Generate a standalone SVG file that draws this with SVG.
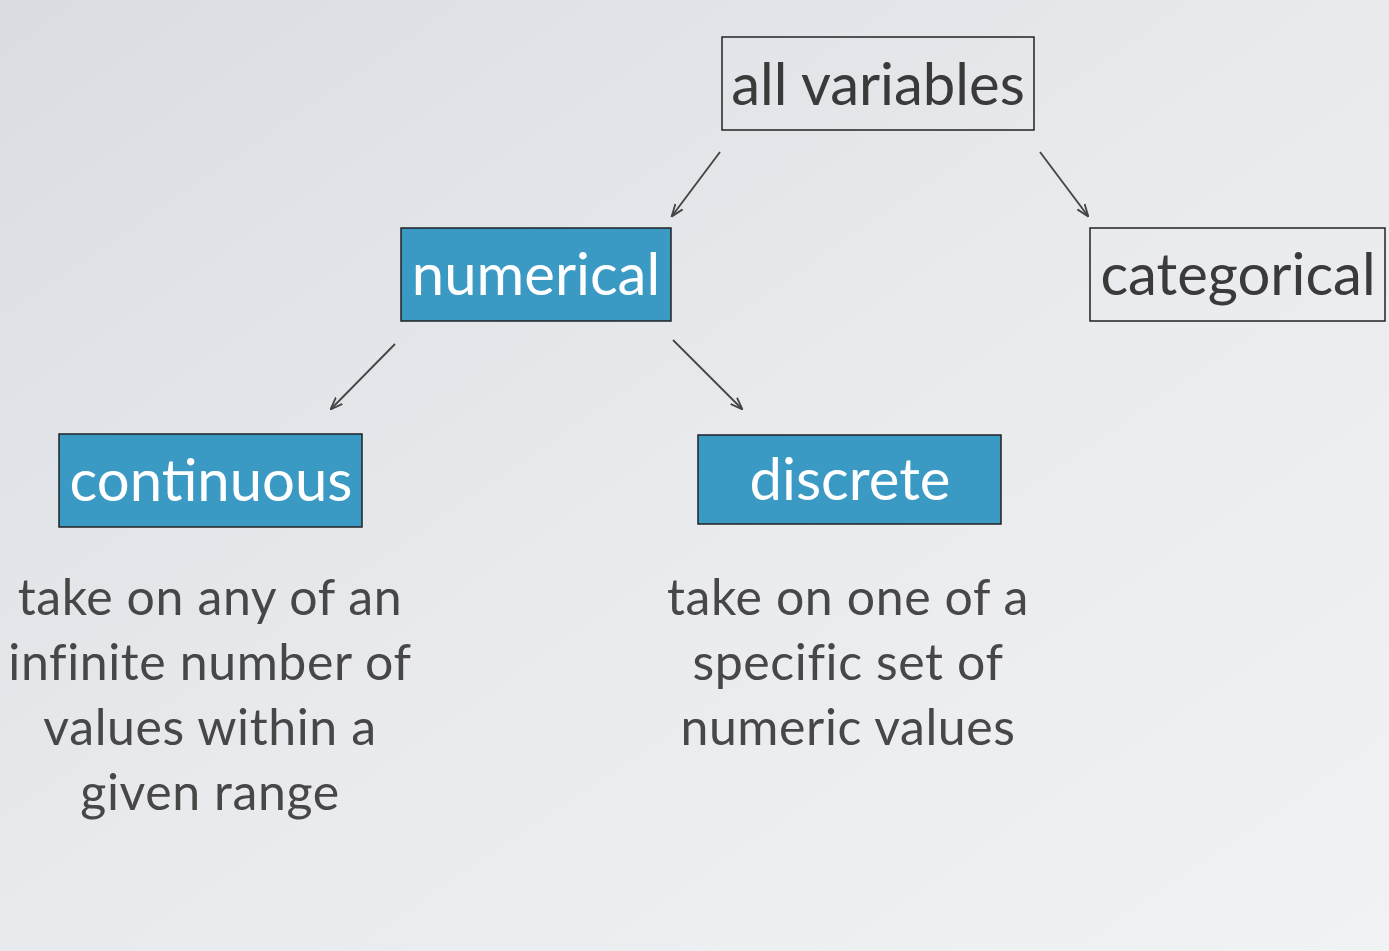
<svg xmlns="http://www.w3.org/2000/svg" width="1389" height="951" viewBox="0 0 1389 951">
<defs>
<linearGradient id="bg" x1="0" y1="0" x2="1" y2="1">
<stop offset="0" stop-color="#d9dde2"/>
<stop offset="0.5" stop-color="#e8eaed"/>
<stop offset="1" stop-color="#f1f2f4"/>
</linearGradient>
<marker id="ah" viewBox="0 0 10 10" refX="9" refY="5" markerWidth="13" markerHeight="13" orient="auto" markerUnits="userSpaceOnUse">
<path d="M0,1.5 L9.5,5 L0,8.5" fill="none" stroke="#444" stroke-width="1.4"/>
</marker>
<style>
.box{stroke:#222;stroke-width:1.5}
.open{fill:none}
.blue{fill:#3a9ac4}
.t{font-family:Lato,"Open Sans",sans-serif;font-size:58px;text-anchor:middle}
.dark{fill:#3a3a3a}
.light{fill:#ffffff}
.d{font-family:Lato,"Open Sans",sans-serif;font-size:50px;text-anchor:middle;fill:#474747;letter-spacing:0.6px}
.c{stroke:#444;stroke-width:1.8;fill:none;marker-end:url(#ah)}
</style>
</defs>
<rect x="0" y="0" width="1389" height="951" fill="url(#bg)"/>
<g id="connectors">
<line class="c" x1="720" y1="152" x2="672" y2="216"/>
<line class="c" x1="1040" y1="152" x2="1088" y2="216"/>
<line class="c" x1="395" y1="344" x2="331" y2="409"/>
<line class="c" x1="673" y1="340" x2="742" y2="409"/>
</g>
<g id="all-variables">
<rect class="box open" x="722" y="37" width="312" height="93"/>
<text class="t dark" x="878" y="105">all variables</text>
</g>
<g id="numerical">
<rect class="box blue" x="401" y="228" width="270" height="93"/>
<text class="t light" x="536" y="295">numerical</text>
</g>
<g id="categorical">
<rect class="box open" x="1090" y="228" width="295" height="93"/>
<text class="t dark" x="1238" y="295">categorical</text>
</g>
<g id="continuous">
<rect class="box blue" x="59" y="434" width="303" height="93"/>
<text class="t light" x="211" y="501">continuous</text>
</g>
<g id="discrete">
<rect class="box blue" x="698" y="435" width="303" height="89"/>
<text class="t light" x="850" y="500">discrete</text>
</g>
<g id="continuous-desc">
<text class="d" x="210" y="615">take on any of an</text>
<text class="d" x="210" y="680">infinite number of</text>
<text class="d" x="210" y="745">values within a</text>
<text class="d" x="210" y="810">given range</text>
</g>
<g id="discrete-desc">
<text class="d" x="848" y="615">take on one of a</text>
<text class="d" x="848" y="680">specific set of</text>
<text class="d" x="848" y="745">numeric values</text>
</g>
</svg>
